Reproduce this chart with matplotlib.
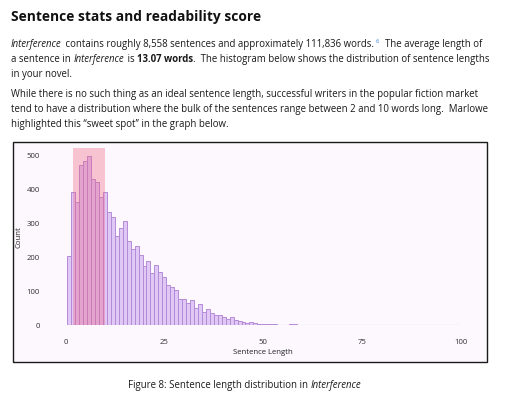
import matplotlib
matplotlib.use("Agg")
import matplotlib.pyplot as plt
from matplotlib.patches import Rectangle

# sentence length (words) -> number of sentences
lengths = list(range(1, 100))
counts = [203, 391, 361, 472, 482, 498, 429, 420, 377, 391,
          333, 319, 262, 286, 306, 247, 224, 232, 206, 175,
          188, 154, 176, 157, 141, 118, 113, 105, 77, 78,
          65, 73, 50, 62, 38, 49, 35, 30, 30, 25,
          18, 23, 17, 12, 10, 6, 11, 6, 5, 5,
          5, 5, 5, 0, 0, 0, 4, 4] + [0] * 40 + [1]
sweet_spot = (2, 10)
x_ticks = [0, 25, 50, 75, 100]
y_ticks = [0, 100, 200, 300, 400, 500]

W, H = 507, 396
FONT = "Open Sans"

fig = plt.figure(figsize=(W / 100, H / 100), dpi=100)
fig.patch.set_facecolor("white")
renderer = fig.canvas.get_renderer()


def px(x, y):
    return x / W, 1 - y / H


def advance(s, **kw):
    # advance width incl. spaces: measure between two bars
    def w(txt):
        t = fig.text(0, 0, txt, **kw)
        v = t.get_window_extent(renderer).width
        t.remove()
        return v
    return w("|" + s + "|") - w("||")


def draw_line(x, y, runs, size):
    # runs: (text, style); style in "", "i", "b", "sup"
    base = dict(family=FONT, size=size, color="#1a1a1a")
    for s, style in runs:
        kw = dict(base)
        yy = y
        extra = 0
        if style == "i":
            kw["style"] = "italic"
            extra = 1.0  # italic overhang
        elif style == "b":
            kw["weight"] = "bold"
        elif style == "sup":
            kw["size"] = size * 0.6
            kw["color"] = "#3f7fd8"
            yy = y - 4
        fig.text(*px(x, yy), s, va="baseline", ha="left", **kw)
        x += advance(s, **kw) + extra


body = 6.9
fig.text(*px(11, 20.5), "Sentence stats and readability score", family=FONT,
         weight="bold", size=9.9, color="#111", va="baseline")

draw_line(11, 47.3, [("Interference", "i"),
                     (" contains roughly 8,558 sentences and approximately 111,836 words. ", ""),
                     ("6", "sup"), ("  The average length of", "")], body)
draw_line(11, 62.3, [("a sentence in ", ""), ("Interference", "i"), (" is ", ""),
                     ("13.07 words", "b"),
                     (".  The histogram below shows the distribution of sentence lengths", "")], body)
draw_line(11, 77, [("in your novel.", "")], body)
draw_line(11, 97.3, [("While there is no such thing as an ideal sentence length, successful writers in the popular fiction market", "")], body)
draw_line(11, 112.3, [("tend to have a distribution where the bulk of the sentences range between 2 and 10 words long.  Marlowe", "")], body)
draw_line(11, 127.3, [("highlighted this \u201csweet spot\u201d in the graph below.", "")], body)

draw_line(128, 388.3, [("Figure 8: Sentence length distribution in ", ""), ("Interference", "i")], body)

# chart frame
fig.add_artist(Rectangle(px(13, 362), 474 / W, 220 / H, transform=fig.transFigure,
                         facecolor="#fcf8fd", edgecolor="#1a1a1a", linewidth=1.0, zorder=0))

ax = fig.add_axes([47.5 / W, 70.7 / H, 431.6 / W, 177.3 / H])
ax.set_facecolor("none")
ax.bar(lengths, counts, width=1, color="#dfc8f6", edgecolor="#b68bd6", linewidth=0.7)
# empty bins still show their edge along the baseline
ax.plot([lengths[0] - 0.5, lengths[-1] + 0.5], [0, 0], color="#b68bd6", linewidth=0.8)
ax.axvspan(*sweet_spot, color="#f06080", alpha=0.35, linewidth=0)
ax.set_xlim(-4.5, 104.5)
ax.set_ylim(0, 521)
for s in ax.spines.values():
    s.set_visible(False)
ax.set_xticks(x_ticks)
ax.set_yticks(y_ticks)
ax.tick_params(length=0, labelsize=5.6, labelcolor="#333")
ax.tick_params(axis="x", pad=10)
ax.tick_params(axis="y", pad=5.4)
for lab in ax.get_xticklabels() + ax.get_yticklabels():
    lab.set_family(FONT)
ax.set_xlabel("Sentence Length", family=FONT, size=5.6, color="#222")
ax.set_ylabel("Count", family=FONT, size=5.6, color="#222")
ax.xaxis.set_label_coords(0.5, -0.134)
ax.yaxis.set_label_coords(-0.059, 0.5)

fig.savefig("out.png", dpi=100)
